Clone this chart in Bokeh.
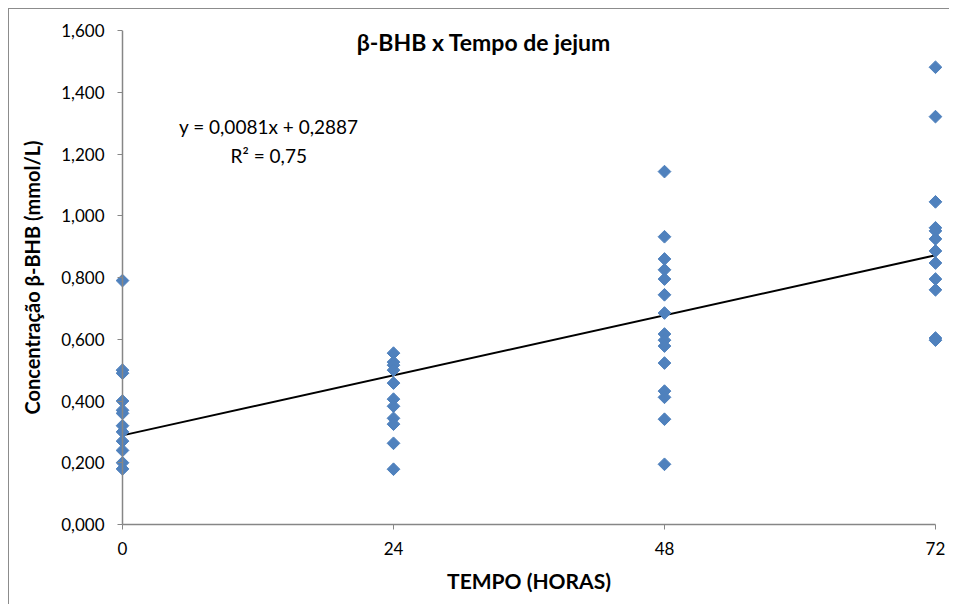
import numpy as np
from bokeh.plotting import figure
from bokeh.models import Label, FixedTicker, ColumnDataSource, LinearAxis
from bokeh.embed import file_html
from bokeh.resources import INLINE

# ---- data ----
hours_0 = [0.79, 0.50, 0.49, 0.40, 0.37, 0.36, 0.32, 0.30, 0.27, 0.24, 0.20, 0.18]
hours_24 = [0.555, 0.526, 0.516, 0.500, 0.458, 0.406, 0.383, 0.344, 0.325, 0.263, 0.179]
hours_48 = [1.143, 0.932, 0.860, 0.825, 0.795, 0.744, 0.685, 0.617, 0.597, 0.578,
            0.523, 0.432, 0.412, 0.341, 0.195]
hours_72 = [1.481, 1.321, 1.045, 0.961, 0.951, 0.925, 0.886, 0.847, 0.795, 0.760,
            0.604, 0.597]
times = [0, 24, 48, 72]
slope = 0.0081
intercept = 0.2887
r2_text = "R² = 0,75"
eq_text = "y = 0,0081x + 0,2887"
title_text = "β-BHB x Tempo de jejum"
x_title = "TEMPO (HORAS)"
y_title = "Concentração β-BHB (mmol/L)"
y_ticks = [0.0, 0.2, 0.4, 0.6, 0.8, 1.0, 1.2, 1.4, 1.6]
y_tick_labels = ["0,000", "0,200", "0,400", "0,600", "0,800", "1,000", "1,200", "1,400", "1,600"]
x_ticks = [0, 24, 48, 72]

xs, ys = [], []
for t, vals in zip(times, [hours_0, hours_24, hours_48, hours_72]):
    xs += [t] * len(vals)
    ys += vals
src = ColumnDataSource(dict(x=xs, y=ys))

FONT = "Lato"
GREY = "#868686"
pad = 0.71
p = figure(width=940, height=595, output_backend="svg", toolbar_location=None,
           x_range=(times[0] - pad, times[-1] + pad), y_range=(y_ticks[0], y_ticks[-1]),
           min_border_left=105, min_border_right=7, min_border_top=21, min_border_bottom=81)
p.outline_line_color = None
p.grid.visible = False
p.styles = {"margin-left": "8px", "margin-top": "8px",
            "border-top": "1px solid #8c8c8c", "border-left": "1px solid #8c8c8c",
            "box-sizing": "content-box"}

p.line(x=[times[0], times[-1]], y=[intercept + slope * times[0], intercept + slope * times[-1]],
       line_color="black", line_width=2)
p.scatter("x", "y", source=src, marker="square", angle=np.pi / 4, size=9,
          fill_color="#4F81BD", line_color="#4F81BD")

# x axis
xa = p.xaxis[0]
xa.ticker = FixedTicker(ticks=x_ticks)
xa.bounds = (float(x_ticks[0]), float(x_ticks[-1]))
xa.axis_line_color = GREY
xa.axis_line_width = 1.5
xa.major_tick_line_color = GREY
xa.minor_tick_line_color = None
xa.major_tick_in = 0
xa.major_tick_out = 5
xa.major_label_text_font = FONT
xa.major_label_text_font_size = "17px"
xa.major_label_text_color = "black"
xa.major_label_standoff = 12
xa.axis_label = x_title
xa.axis_label_text_font = FONT
xa.axis_label_text_font_style = "bold"
xa.axis_label_text_font_size = "21px"
xa.axis_label_text_color = "black"
xa.axis_label_standoff = 10

# y axis: labels and ticks from the frame edge (ticks reach in to x = 0)
ya = p.yaxis[0]
ya.ticker = FixedTicker(ticks=y_ticks)
ya.major_label_overrides = {t: l for t, l in zip(y_ticks, y_tick_labels)}
ya.axis_line_color = None
ya.major_tick_line_color = GREY
ya.minor_tick_line_color = None
ya.major_tick_in = 8
ya.major_tick_out = -3
ya.major_label_text_font = FONT
ya.major_label_text_font_size = "17px"
ya.major_label_text_color = "black"
ya.major_label_standoff = 10
ya.axis_label = y_title
ya.axis_label_text_font = FONT
ya.axis_label_text_font_style = "bold"
ya.axis_label_text_font_size = "20px"
ya.axis_label_text_color = "black"
ya.axis_label_standoff = 14

# y axis line at x = 0
yb = LinearAxis(fixed_location=times[0], ticker=FixedTicker(ticks=[]),
                axis_line_color=GREY, axis_line_width=1.5, minor_tick_line_color=None,
                major_tick_in=0, major_tick_out=0)
p.add_layout(yb, "left")

p.add_layout(Label(x=32.0, y=1.562, text=title_text, text_font=FONT, text_font_style="bold",
                   text_font_size="23px", text_align="center", text_baseline="middle",
                   text_color="black"))
p.add_layout(Label(x=12.95, y=1.289, text=eq_text, text_font=FONT, text_font_size="19px",
                   text_align="center", text_baseline="middle", text_color="black"))
p.add_layout(Label(x=12.95, y=1.195, text=r2_text, text_font=FONT, text_font_size="19px",
                   text_align="center", text_baseline="middle", text_color="black"))

open("out.html", "w").write(file_html(p, INLINE))
